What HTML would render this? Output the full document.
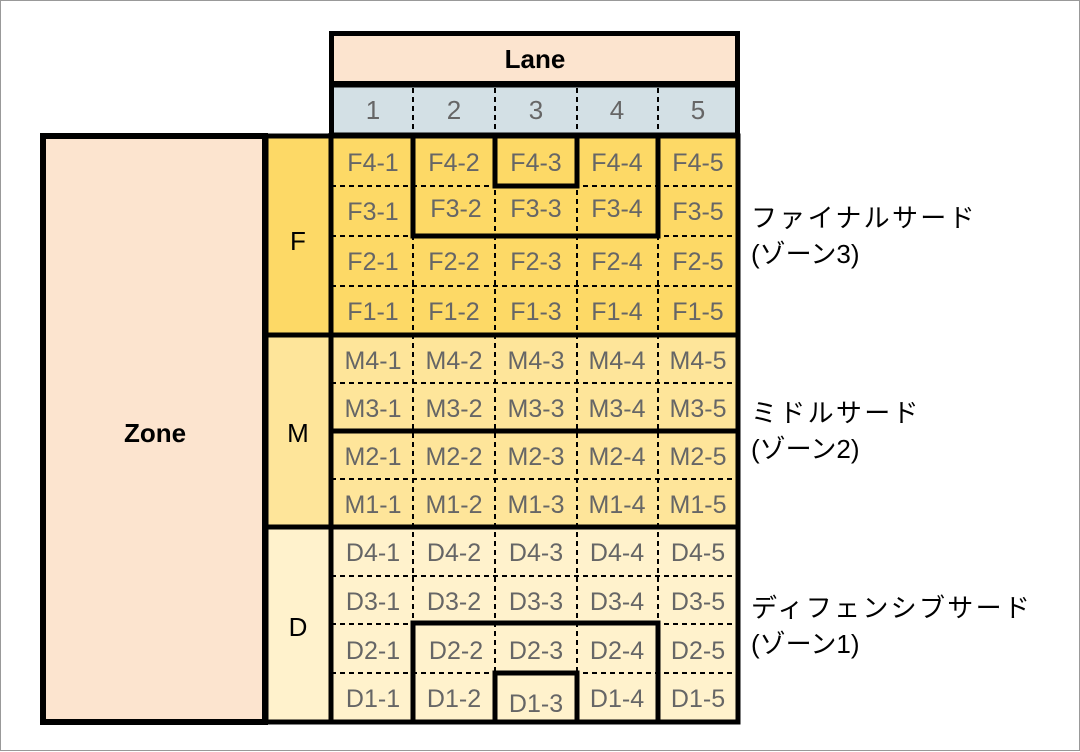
<!DOCTYPE html>
<html><head><meta charset="utf-8"><style>
html,body{margin:0;padding:0;background:#fff;}
svg{display:block;}
</style></head><body>
<svg width="1080" height="752" viewBox="0 0 1080 752" xmlns="http://www.w3.org/2000/svg" font-family="'Liberation Sans','Noto Sans CJK JP',sans-serif">
<rect x="0.5" y="0.5" width="1079" height="750" fill="#fff" stroke="#999" stroke-width="1"/>
<rect x="331.5" y="33.5" width="406" height="50" fill="#fce4cf" stroke="#000" stroke-width="5"/>
<text x="535" y="68" font-size="26" font-weight="bold" text-anchor="middle">Lane</text>
<rect x="331.5" y="85" width="406" height="50" fill="#d3e0e5" stroke="#000" stroke-width="5"/>
<g stroke="#000" stroke-width="2" stroke-dasharray="5,4">
<line x1="413" y1="88" x2="413" y2="133"/><line x1="495" y1="88" x2="495" y2="133"/>
<line x1="577" y1="88" x2="577" y2="133"/><line x1="658" y1="88" x2="658" y2="133"/>
</g>
<g font-size="26" fill="#666" text-anchor="middle">
<text x="373" y="119">1</text><text x="454" y="119">2</text><text x="536" y="119">3</text><text x="617" y="119">4</text><text x="698" y="119">5</text>
</g>
<rect x="43" y="136" width="222" height="586" fill="#fce4cf" stroke="#000" stroke-width="6"/>
<text x="155" y="442" font-size="26" font-weight="bold" text-anchor="middle">Zone</text>
<rect x="266" y="136" width="65" height="199" fill="#fdd966"/>
<rect x="266" y="335" width="65" height="192" fill="#fee59a"/>
<rect x="266" y="527" width="65" height="195" fill="#fff2cc"/>
<rect x="331" y="136" width="407" height="199" fill="#fdd966"/>
<rect x="331" y="335" width="407" height="192" fill="#fee59a"/>
<rect x="331" y="527" width="407" height="195" fill="#fff2cc"/>
<g stroke="#000" stroke-width="2" stroke-dasharray="5,4">
<line x1="413" y1="136" x2="413" y2="722"/><line x1="495" y1="136" x2="495" y2="722"/>
<line x1="577" y1="136" x2="577" y2="722"/><line x1="658" y1="136" x2="658" y2="722"/>
<line x1="331" y1="186" x2="738" y2="186"/><line x1="331" y1="236" x2="738" y2="236"/>
<line x1="331" y1="286" x2="738" y2="286"/>
<line x1="331" y1="383" x2="738" y2="383"/><line x1="331" y1="479" x2="738" y2="479"/>
<line x1="331" y1="576" x2="738" y2="576"/><line x1="331" y1="624" x2="738" y2="624"/>
<line x1="331" y1="673" x2="738" y2="673"/>
</g>
<g stroke="#000" stroke-width="5" fill="none">
<line x1="266" y1="335" x2="738" y2="335"/>
<line x1="266" y1="527" x2="738" y2="527"/>
<line x1="331" y1="431" x2="738" y2="431"/>
<line x1="331" y1="133" x2="331" y2="722"/>
<rect x="43" y="136" width="695" height="586"/>
<line x1="266" y1="136" x2="266" y2="722"/>
<polyline points="413,136 413,236 658,236 658,136"/>
<polyline points="495,136 495,186 577,186 577,136"/>
<polyline points="413,722 413,623 658,623 658,722"/>
<polyline points="495,722 495,673 577,673 577,722"/>
</g>
<g font-size="26" text-anchor="middle">
<text x="298" y="250">F</text><text x="298" y="442">M</text><text x="298" y="636">D</text>
</g>
<g font-size="25" fill="#666" text-anchor="middle">
<text x="373" y="171">F4-1</text><text x="454" y="171">F4-2</text><text x="536" y="171">F4-3</text><text x="617" y="171">F4-4</text><text x="698" y="171">F4-5</text>
<text x="373" y="220">F3-1</text><text x="456" y="217">F3-2</text><text x="536" y="217">F3-3</text><text x="617" y="217">F3-4</text><text x="698" y="220">F3-5</text>
<text x="373" y="270">F2-1</text><text x="454" y="270">F2-2</text><text x="536" y="270">F2-3</text><text x="617" y="270">F2-4</text><text x="698" y="270">F2-5</text>
<text x="373" y="320">F1-1</text><text x="454" y="320">F1-2</text><text x="536" y="320">F1-3</text><text x="617" y="320">F1-4</text><text x="698" y="320">F1-5</text>
<text x="373" y="369">M4-1</text><text x="454" y="369">M4-2</text><text x="536" y="369">M4-3</text><text x="617" y="369">M4-4</text><text x="698" y="369">M4-5</text>
<text x="373" y="417">M3-1</text><text x="454" y="417">M3-2</text><text x="536" y="417">M3-3</text><text x="617" y="417">M3-4</text><text x="698" y="417">M3-5</text>
<text x="373" y="465">M2-1</text><text x="454" y="465">M2-2</text><text x="536" y="465">M2-3</text><text x="617" y="465">M2-4</text><text x="698" y="465">M2-5</text>
<text x="373" y="513">M1-1</text><text x="454" y="513">M1-2</text><text x="536" y="513">M1-3</text><text x="617" y="513">M1-4</text><text x="698" y="513">M1-5</text>
<text x="373" y="561">D4-1</text><text x="454" y="561">D4-2</text><text x="536" y="561">D4-3</text><text x="617" y="561">D4-4</text><text x="698" y="561">D4-5</text>
<text x="373" y="610">D3-1</text><text x="454" y="610">D3-2</text><text x="536" y="610">D3-3</text><text x="617" y="610">D3-4</text><text x="698" y="610">D3-5</text>
<text x="373" y="659">D2-1</text><text x="456" y="659">D2-2</text><text x="536" y="659">D2-3</text><text x="617" y="659">D2-4</text><text x="698" y="659">D2-5</text>
<text x="373" y="707">D1-1</text><text x="454" y="707">D1-2</text><text x="536" y="712">D1-3</text><text x="617" y="707">D1-4</text><text x="698" y="707">D1-5</text>
</g>
<g font-size="26" fill="#000">
<text x="751" y="227" letter-spacing="2.3">ファイナルサード</text>
<text x="751" y="263">(ゾーン3)</text>
<text x="751" y="422" letter-spacing="2.3">ミドルサード</text>
<text x="751" y="458">(ゾーン2)</text>
<text x="751" y="617" letter-spacing="2.3">ディフェンシブサード</text>
<text x="751" y="653">(ゾーン1)</text>
</g>
</svg>
</body></html>
